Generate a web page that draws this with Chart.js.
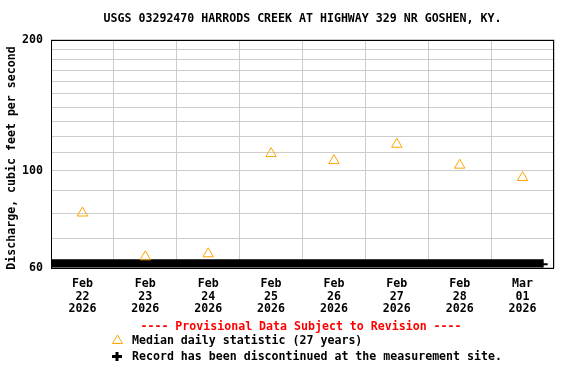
<!DOCTYPE html>
<html lang="en">
<head>
  <meta charset="UTF-8">
  <title>USGS 03292470 Harrods Creek</title>
  <script src="https://cdn.jsdelivr.net/npm/chart.js@4.4.0/dist/chart.umd.min.js"></script>
  <style>
    body { margin: 0; background: #fff; }
    #chartBox { width: 576px; height: 384px; }
  </style>
</head>
<body>
  <div id="chartBox">
    <canvas id="flowChart" width="576" height="384"></canvas>
  </div>

  <script>
    // days shown on the x axis (each label sits at noon of its day)
    const dayLabels = [
      ['Feb', '22', '2026'], ['Feb', '23', '2026'], ['Feb', '24', '2026'], ['Feb', '25', '2026'],
      ['Feb', '26', '2026'], ['Feb', '27', '2026'], ['Feb', '28', '2026'], ['Mar', '01', '2026']
    ];
    // median daily statistic (27 years), cfs
    const medianFlow = [80, 63.5, 64.5, 109.5, 105.5, 115, 103, 96.5];
    // "record discontinued" marker row: start / end in days from Feb 22 00:00
    const discX = [0, 7.82];
    const discY = [61, 61];
    // y axis grid and labels
    const yGrid = [60, 70, 80, 90, 100, 110, 120, 130, 140, 150, 160, 170, 180, 190, 200];
    const yLabels = [60, 100, 200];

    const TITLE = 'USGS 03292470 HARRODS CREEK AT HIGHWAY 329 NR GOSHEN, KY.';
    const Y_TITLE = 'Discharge, cubic feet per second';
    const MONO = "'DejaVu Sans Mono', monospace";
    const FONT = 'bold 11.6px ' + MONO;

    const medianPoints = medianFlow.map((v, i) => ({ x: i + 0.5, y: v }));
    const discPoints = discX.map((x, i) => ({ x: x, y: discY[i] }));

    // frame round the plot, titles, legend notes underneath
    const extras = {
      id: 'extras',
      beforeDatasetsDraw(chart) {
        const { ctx, chartArea: a } = chart;
        ctx.save();
        ctx.strokeStyle = '#000';
        ctx.lineWidth = 1;
        ctx.strokeRect(Math.round(a.left) + 0.5, Math.round(a.top) + 0.5,
          Math.round(a.right - a.left) - 1, Math.round(a.bottom - a.top));
        ctx.restore();
      },
      afterDraw(chart) {
        const { ctx, chartArea: a } = chart;
        ctx.save();
        ctx.font = FONT;
        ctx.textBaseline = 'middle';
        ctx.fillStyle = '#000';

        // title centred over the plot area
        ctx.textAlign = 'center';
        ctx.fillText(TITLE, (a.left + a.right) / 2, 19);

        // y axis title
        ctx.save();
        ctx.translate(12, 158);
        ctx.rotate(-Math.PI / 2);
        ctx.fillText(Y_TITLE, 0, 0);
        ctx.restore();

        ctx.fillStyle = '#ff0000';
        ctx.fillText('---- Provisional Data Subject to Revision ----', 301, 327);

        ctx.textAlign = 'left';
        ctx.fillStyle = '#000';
        ctx.fillText('Median daily statistic (27 years)', 132, 341);
        ctx.fillText('Record has been discontinued at the measurement site.', 132, 357);

        // triangle symbol
        ctx.strokeStyle = '#FFA500';
        ctx.lineWidth = 1;
        ctx.beginPath();
        ctx.moveTo(117.5, 335);
        ctx.lineTo(112.5, 343.5);
        ctx.lineTo(122.5, 343.5);
        ctx.closePath();
        ctx.stroke();

        // plus symbol
        ctx.fillStyle = '#000';
        ctx.fillRect(112, 355, 10, 3);
        ctx.fillRect(115.5, 352, 3, 9);
        ctx.restore();
      }
    };

    new Chart(document.getElementById('flowChart'), {
      type: 'scatter',
      data: {
        datasets: [
          {
            label: 'Median daily statistic',
            data: medianPoints,
            pointStyle: 'triangle',
            pointRadius: 6,
            pointBorderWidth: 1,
            borderColor: '#FFA500',
            backgroundColor: 'rgba(0,0,0,0)',
            showLine: false
          },
          {
            label: 'Record discontinued',
            data: discPoints,
            showLine: true,
            borderColor: '#000',
            borderWidth: 10,
            borderCapStyle: 'butt',
            pointStyle: 'cross',
            pointRadius: 5,
            pointBorderWidth: 2,
            pointBorderColor: '#000',
            backgroundColor: '#000'
          }
        ]
      },
      options: {
        responsive: false,
        animation: false,
        events: [],
        layout: { padding: { left: 0, right: 22, top: 39.5, bottom: 0 } },
        plugins: {
          legend: { display: false },
          tooltip: { enabled: false },
          title: { display: false }
        },
        scales: {
          x: {
            type: 'linear',
            min: 0,
            max: 8,
            afterBuildTicks(scale) {
              scale.ticks = dayLabels.map((d, i) => ({ value: i + 0.5 }));
            },
            afterFit(scale) { scale.height = 116.5; },
            grid: { color: '#cccccc', lineWidth: 1, offset: true, drawTicks: false },
            border: { display: false },
            ticks: {
              color: '#000',
              padding: 10,
              maxRotation: 0,
              autoSkip: false,
              font: { family: MONO, size: 11.6, weight: 'bold', lineHeight: 1.1 },
              callback: (v, i) => dayLabels[i]
            }
          },
          y: {
            type: 'logarithmic',
            min: 60,
            max: 200,
            afterBuildTicks(scale) {
              scale.ticks = yGrid.map(v => ({ value: v }));
            },
            afterFit(scale) { scale.width = 51; },
            grid: { color: '#cccccc', lineWidth: 1, drawTicks: false },
            border: { display: false },
            ticks: {
              color: '#000',
              padding: 8,
              autoSkip: false,
              font: { family: MONO, size: 11.6, weight: 'bold' },
              callback: v => (yLabels.includes(v) ? String(v) : '')
            }
          }
        }
      },
      plugins: [extras]
    });
  </script>
</body>
</html>
